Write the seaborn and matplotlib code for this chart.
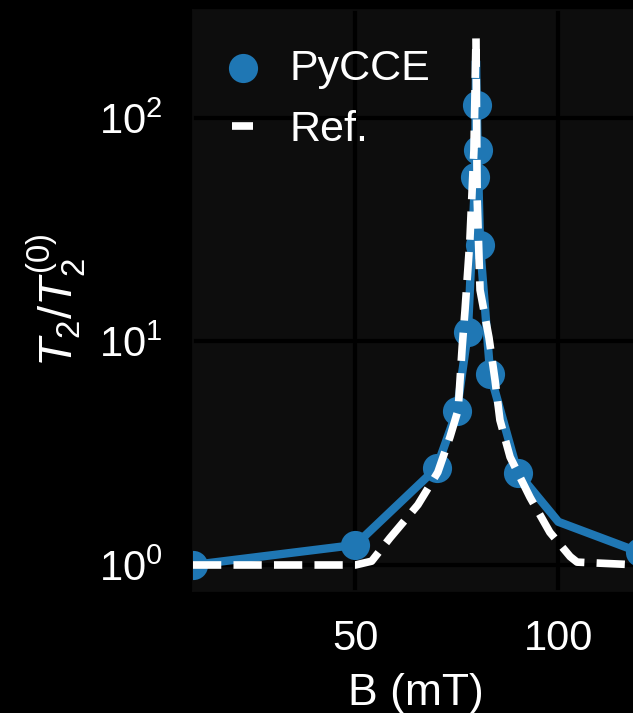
import matplotlib
matplotlib.use("Agg")
import matplotlib.pyplot as plt
import seaborn as sns
import pandas as pd

# PyCCE markers
pycce_B = [10, 50, 70, 75, 77.7, 79.5, 79.9, 80.1, 80.7, 83.2, 90, 120]
pycce_T = [1.0, 1.23, 2.72, 4.89, 11.0, 54.4, 114, 71.8, 27.1, 7.15, 2.59, 1.14]
# PyCCE connecting line
line_B = [10, 50, 70, 75, 77.7, 79.5, 79.7, 79.9, 80.1, 80.7, 83.2, 90, 100, 120]
line_T = [1.0, 1.23, 2.72, 4.89, 11.0, 54.4, 180, 114, 71.8, 27.1, 7.15, 2.59, 1.56, 1.14]
# Reference curve
ref_B = [10, 50, 54, 58.5, 65.4, 70.3, 73.3, 75.3, 76.3, 77.0, 78.2, 79.2, 79.7,
         80.0, 80.7, 82.9, 84.4, 85.6, 88.1, 93.0, 97.9, 102.9, 104.6, 120]
ref_T = [1.0, 1.0, 1.04, 1.32, 1.86, 2.60, 3.74, 4.94, 9.45, 13.8, 28.5, 72, 228,
         43, 17.0, 10.4, 6.7, 4.45, 3.04, 2.01, 1.40, 1.09, 1.03, 1.0]

xticks = [50, 100]

sns.set_theme(style="darkgrid", rc={
    "figure.facecolor": "black",
    "axes.facecolor": "#0d0d0d",
    "grid.color": "black",
    "grid.linewidth": 3,
    "axes.edgecolor": "#0d0d0d",
    "text.color": "white",
    "axes.labelcolor": "white",
    "xtick.color": "white",
    "ytick.color": "white",
})
plt.rcParams["font.family"] = ["Liberation Sans", "DejaVu Sans"]
plt.rcParams["mathtext.fontset"] = "custom"
plt.rcParams["mathtext.rm"] = "Liberation Sans"
plt.rcParams["mathtext.it"] = "Liberation Sans:italic"

fig = plt.figure(figsize=(6.33, 7.13), dpi=100)
ax = fig.add_axes([193 / 633, 122 / 713, (120 - 10) * 4.06 / 633, 581 / 713])

df_line = pd.DataFrame({"B": line_B, "T": line_T})
df_pts = pd.DataFrame({"B": pycce_B, "T": pycce_T})
df_ref = pd.DataFrame({"B": ref_B, "T": ref_T})

sns.lineplot(data=df_line, x="B", y="T", ax=ax, color="#1f77b4", lw=6,
             sort=False, estimator=None, zorder=2)
sns.scatterplot(data=df_pts, x="B", y="T", ax=ax, color="#1f77b4", s=21 ** 2,
                linewidth=0, zorder=3, label="PyCCE", clip_on=True)
sns.lineplot(data=df_ref, x="B", y="T", ax=ax, color="white", lw=5.5,
             linestyle="--", sort=False, estimator=None, zorder=4, label="Ref.")

ax.set_yscale("log")
ax.set_xlim(10, 120)
ax.set_ylim(0.765, 304)
ax.set_xticks(xticks)
ax.minorticks_off()
ax.grid(True, which="major")
ax.tick_params(axis="both", which="both", length=0, labelsize=30)
ax.tick_params(axis="y", pad=22)
ax.tick_params(axis="x", pad=20)
ax.set_xlabel("B (mT)", fontsize=32, labelpad=10)
ax.set_ylabel(r"$T_2/T_2^{(0)}$", fontsize=34, labelpad=8)

leg = ax.legend(loc="upper left", frameon=False, fontsize=31, handlelength=0.5,
                handletextpad=0.85, labelspacing=0.5, borderaxespad=0.5,
                markerscale=1.0)
for t in leg.get_texts():
    t.set_color("white")

fig.savefig("out.png", dpi=100, facecolor="black")
